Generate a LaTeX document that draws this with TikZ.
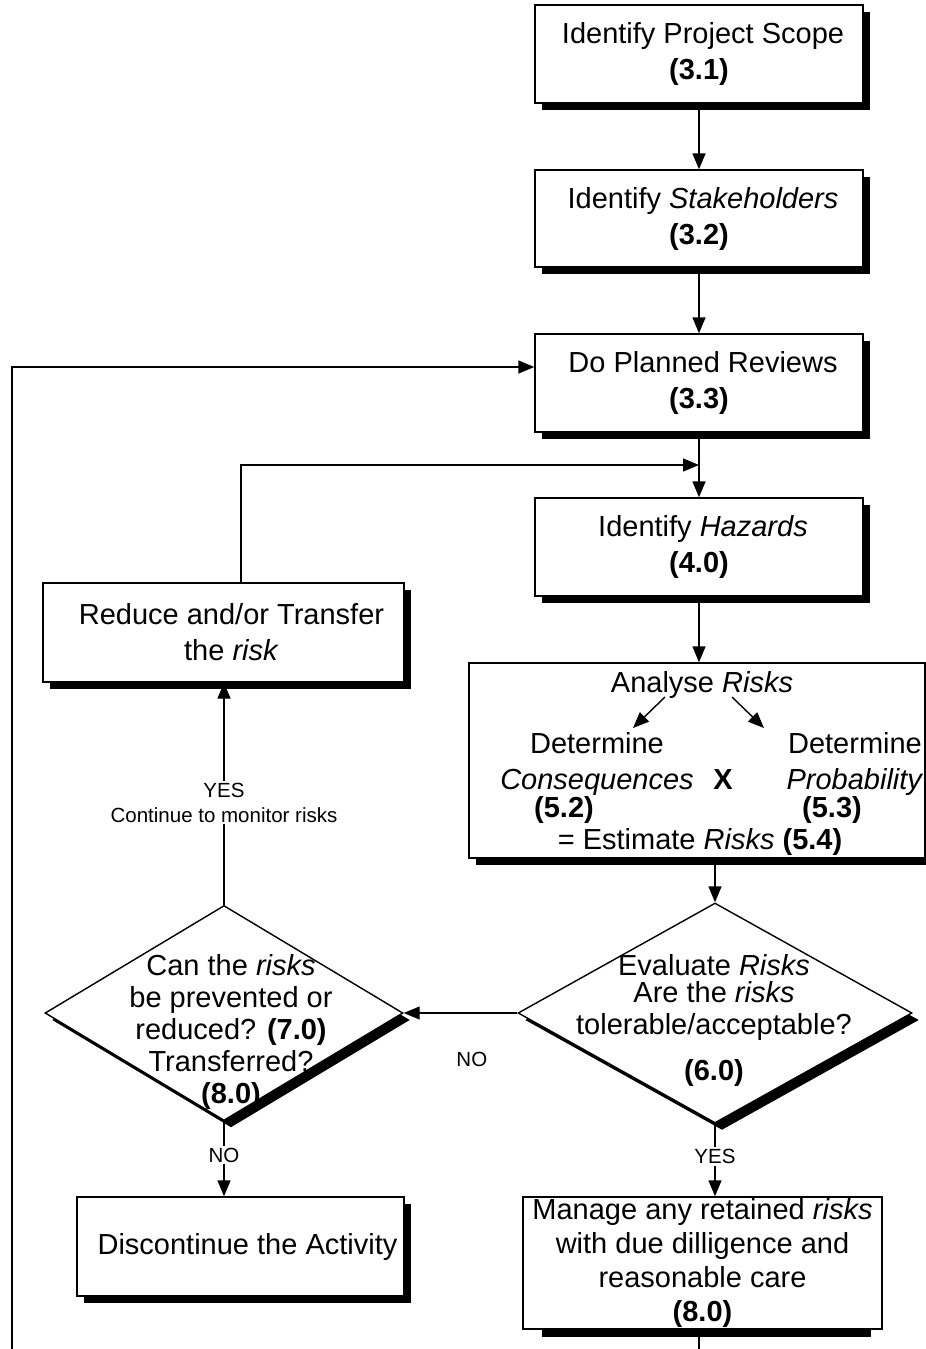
\documentclass[tikz,border=0pt]{standalone}
\usepackage{fontspec}
\setmainfont{Liberation Sans}
\usetikzlibrary{arrows.meta}
\usetikzlibrary{calc}
\usetikzlibrary{shapes.geometric}
\usetikzlibrary{shadows}
\newcommand{\boxfont}{\fontsize{29}{36}\selectfont}
\newcommand{\carefont}{\fontsize{29}{34}\selectfont}
\newcommand{\diafont}{\fontsize{29}{32}\selectfont}
\newcommand{\labfont}{\fontsize{20.5}{25}\selectfont}

\begin{document}
\begin{tikzpicture}[x=1pt, y=-1pt, line width=1.4pt,
    >={Triangle[length=16pt, width=13pt]},
    shade box/.style={drop shadow={shadow xshift=7pt, shadow yshift=-7pt, opacity=1, fill=black}},
    plainbox/.style={rectangle, draw, fill=white, inner sep=0pt, align=center, font=\boxfont},
    stepbox/.style={plainbox, shade box},
    decision/.style={diamond, draw, fill=white, inner sep=0pt, shade box},
    answer/.style={fill=white, inner sep=2pt, font=\labfont, align=center}]
      \useasboundingbox (0,0) rectangle (926,1349);

      \node[stepbox, minimum width=328pt, minimum height=98pt] (scope) at (699,54) {\hspace*{8pt}Identify Project Scope\\\textbf{(3.1)}};
      \node[stepbox, minimum width=328pt, minimum height=97pt] (stake) at (699,218.5) {\hspace*{8pt}Identify \textit{Stakeholders}\\\textbf{(3.2)}};
      \node[stepbox, minimum width=328pt, minimum height=98pt] (reviews) at (699,383) {\hspace*{8pt}Do Planned Reviews\\\textbf{(3.3)}};
      \node[stepbox, minimum width=328pt, minimum height=98pt] (hazards) at (699,547) {\hspace*{8pt}Identify \textit{Hazards}\\\textbf{(4.0)}};
      \node[stepbox, minimum width=361pt, minimum height=99pt] (reduce) at (223.5,632.5) {\hspace*{16pt}Reduce and/or Transfer\\\hspace*{16pt}the \textit{risk}};

      \node[stepbox, minimum width=456pt, minimum height=195pt] (analyse) at (697,760.5) {};
      \node[font=\boxfont] (antitle) at (702,685) {Analyse \textit{Risks}};
      \node[font=\boxfont, align=center] (cons) at (597,763.5) {Determine\\\textit{Consequences}};
      \node[font=\boxfont] (c52) at (564,810) {\textbf{(5.2)}};
      \node[font=\boxfont] (times) at (723,780) {\textbf{X}};
      \node[font=\boxfont, align=center] (prob) at (855,763.5) {Determine\\\textit{Probability}};
      \node[font=\boxfont] (p53) at (832,810) {\textbf{(5.3)}};
      \node[font=\boxfont] (est) at (700,842) {= Estimate \textit{Risks} \textbf{(5.4)}};
      \coordinate (al0) at (665,697);
      \coordinate (al1) at (633,728);
      \coordinate (ar0) at (732,697);
      \coordinate (ar1) at (764,728);

      \node[decision, minimum width=394pt, minimum height=220pt] (eval) at (715,1013) {};
      \node[font=\diafont, align=center] (evaltext) at (714,1020) {Evaluate \textit{Risks}\\[-5pt]Are the \textit{risks}\\tolerable/acceptable?\\[14pt]\textbf{(6.0)}};
      \node[decision, minimum width=358pt, minimum height=215pt] (canq) at (224,1013) {};
      \node[font=\diafont, align=center] (canqtext) at (231,1032) {Can the \textit{risks}\\be prevented or\\reduced? \textbf{(7.0)}\\Transferred?\\\textbf{(8.0)}};

      \node[stepbox, minimum width=327pt, minimum height=99pt] (stop) at (240.5,1246.5) {\hspace*{14pt}Discontinue the Activity};
      \node[plainbox, font=\carefont, minimum width=359pt, minimum height=132pt] (manage) at (702.5,1263) {Manage any retained \textit{risks}\\with due dilligence and\\reasonable care\\\textbf{(8.0)}};
      \fill ([xshift=19.5pt]manage.south west) rectangle ([xshift=-12pt, yshift=-7pt]manage.south east);

      \coordinate (merge) at (699,465);
      \coordinate (loopend) at (12,1349);
      \coordinate (mout) at (699,1349);

      \draw[->] (scope) -- (stake);
      \draw[->] (stake) -- (reviews);
      \draw[->] (reviews) -- (hazards);
      \draw[->] (hazards.south) -- (hazards.south |- analyse.north);
      \draw[->] (al0) -- (al1);
      \draw[->] (ar0) -- (ar1);
      \draw[->] (eval.north |- analyse.south) -- (eval.north);
      \draw[->] (eval.west) -- (canq.east) node[pos=0.4, yshift=-46pt, font=\labfont] {NO};
      \draw[->] (eval.south) -- (eval.south |- manage.north) node[answer, pos=0.45] {YES};
      \draw (mout |- manage.south) -- (mout);
      \draw[->] (canq.south) -- (canq.south |- stop.north) node[answer, pos=0.45] {NO};
      \draw[->] (canq.north) -- (canq.north |- reduce.south) node[answer, pos=0.46] {YES\\Continue to monitor risks};
      \draw[->] ([xshift=17.5pt]reduce.north) |- (merge);
      \draw[->] (loopend) |- ([yshift=16pt]reviews.west);
\end{tikzpicture}
\end{document}
